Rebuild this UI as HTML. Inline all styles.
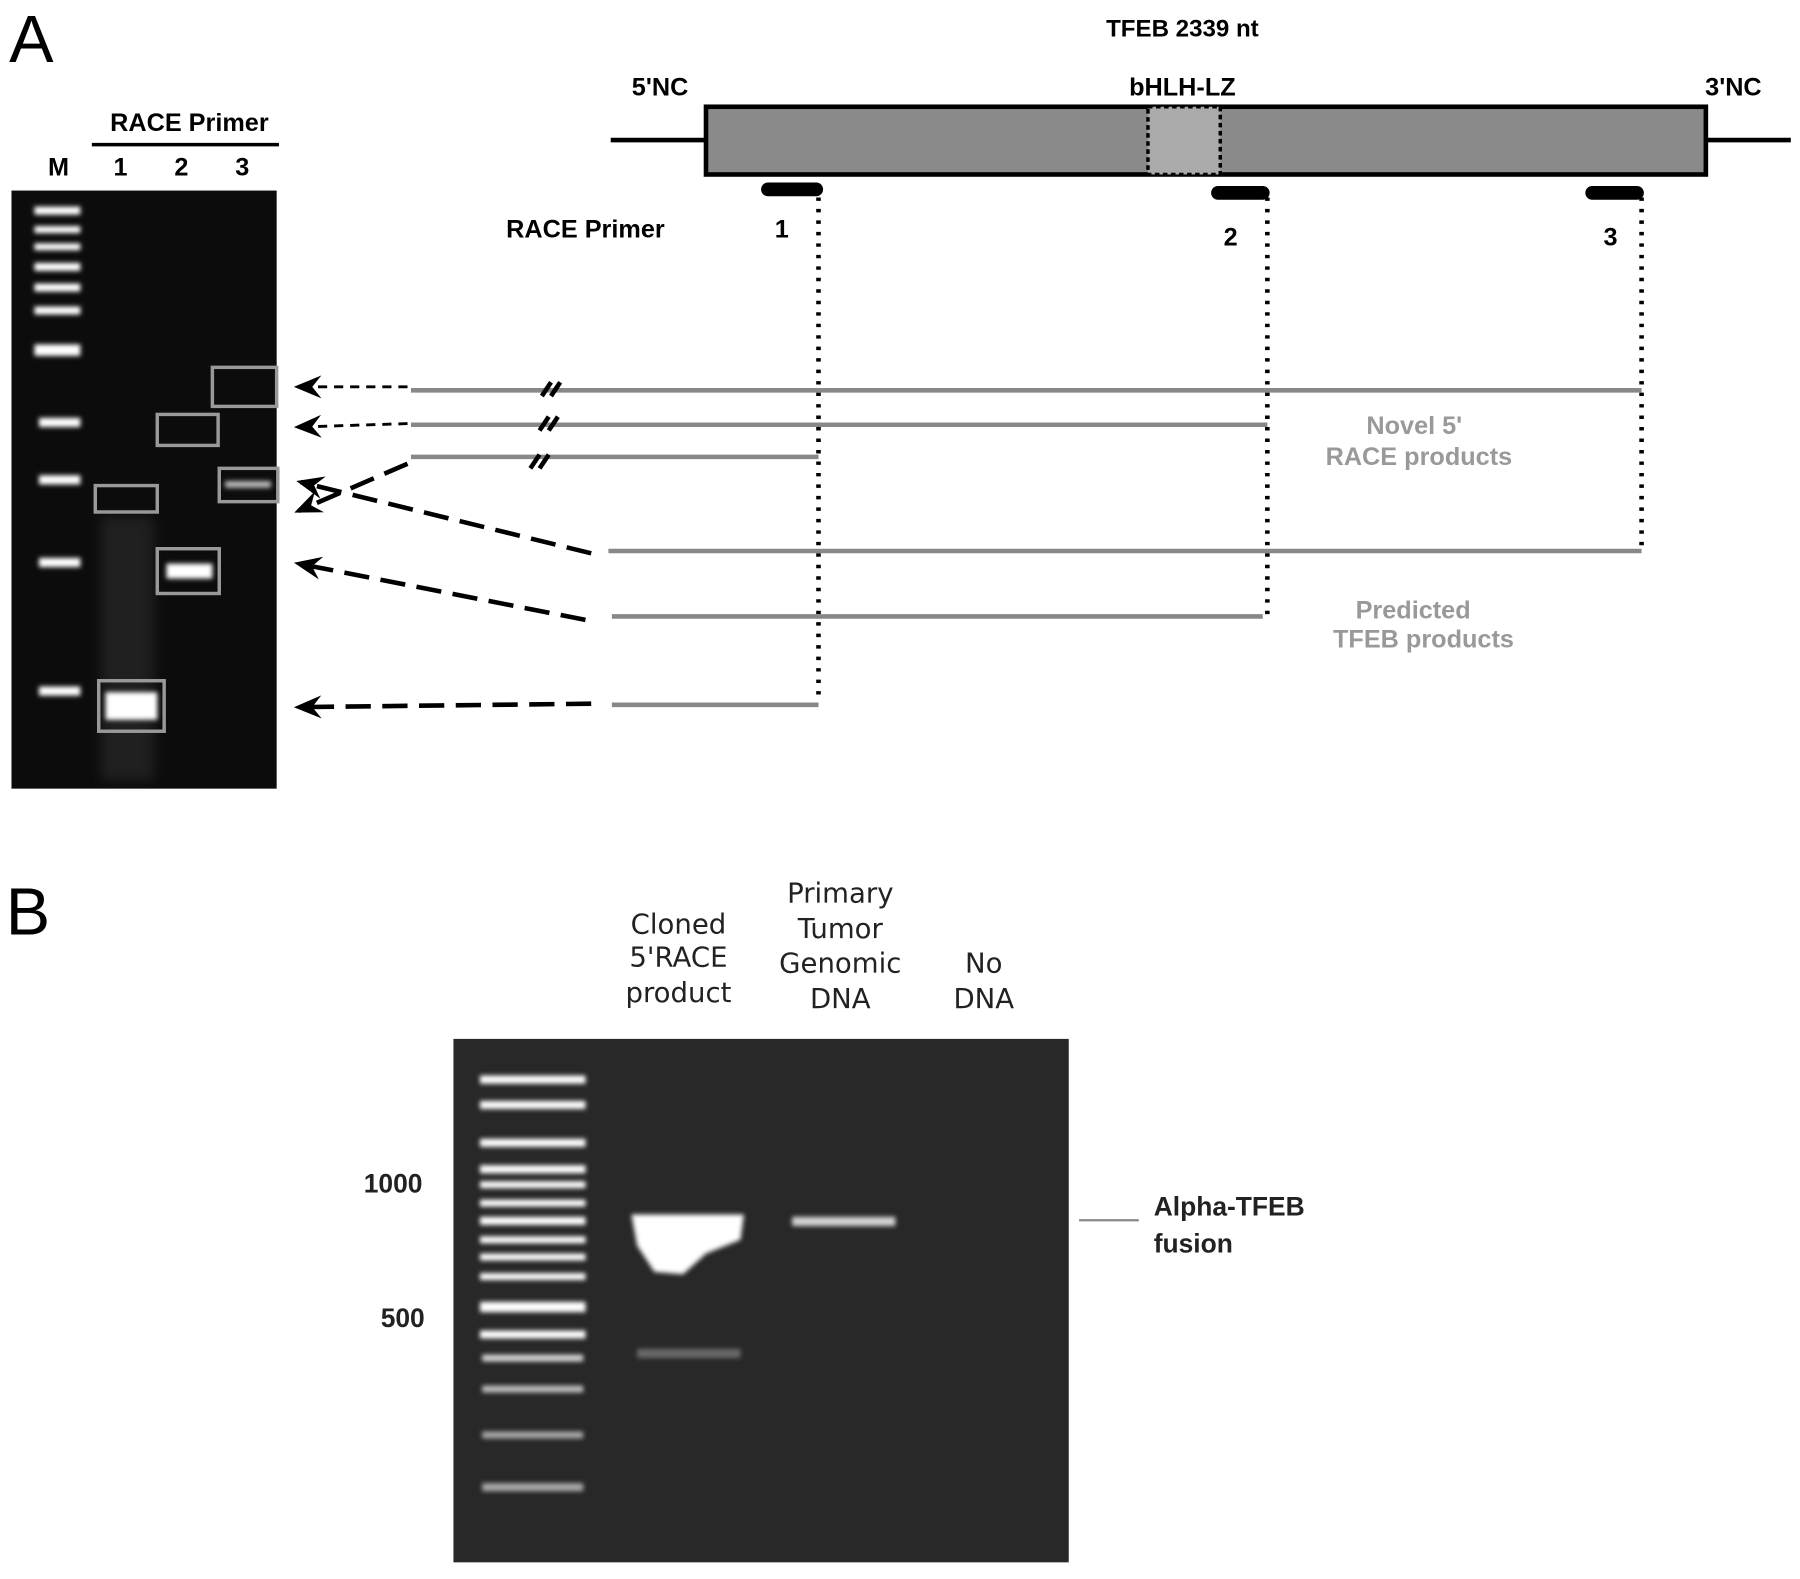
<!DOCTYPE html>
<html><head><style>html,body{margin:0;padding:0;background:#fff}svg{display:block}</style></head><body>
<svg width="1800" height="1579" viewBox="0 0 1568 1375.5" preserveAspectRatio="none" xmlns="http://www.w3.org/2000/svg" font-family="Liberation Sans, Arial, sans-serif">
<defs>
<filter id="bl" x="-20%" y="-100%" width="140%" height="300%"><feGaussianBlur stdDeviation="2"/></filter>
<filter id="bl2" x="-20%" y="-100%" width="140%" height="300%"><feGaussianBlur stdDeviation="5"/></filter>
<marker id="ah" markerWidth="24" markerHeight="20" refX="20" refY="10" orient="auto" markerUnits="userSpaceOnUse" viewBox="0 0 24 20"><path d="M24,10 L0,0 L8,10 L0,20z" fill="#000"/></marker>
</defs>
<rect width="1568" height="1376" fill="#fff"/>
<text x="8" y="54" font-size="58">A</text>
<text x="5" y="814" font-size="58">B</text>
<!-- gel A -->
<rect x="10" y="166" width="231" height="521" fill="#0c0c0c"/>
<rect x="88" y="450" width="46" height="230" fill="#444" opacity=".35" filter="url(#bl2)"/>
<g fill="#fff" filter="url(#bl)">
<rect x="30" y="180" width="40" height="7"/><rect x="30" y="197" width="40" height="6"/><rect x="30" y="212" width="40" height="6"/><rect x="30" y="229" width="40" height="7"/><rect x="30" y="247" width="40" height="7"/><rect x="30" y="267" width="40" height="7"/><rect x="30" y="300" width="40" height="10"/><rect x="34" y="364" width="36" height="8"/><rect x="34" y="414" width="36" height="8"/><rect x="34" y="486" width="36" height="8"/><rect x="34" y="598" width="36" height="8"/>
<rect x="92" y="603" width="45" height="24"/><rect x="145" y="491" width="40" height="13"/><rect x="196" y="419" width="40" height="6" opacity=".7"/>
</g>
<g fill="none" stroke="#999" stroke-width="3">
<rect x="83" y="423" width="54" height="23"/><rect x="86" y="593" width="57" height="44"/><rect x="137" y="361" width="53" height="27"/><rect x="137" y="478" width="54" height="39"/><rect x="185" y="320" width="56" height="34"/><rect x="191" y="408" width="51" height="29"/>
</g>
<g font-weight="bold" font-size="22" text-anchor="middle">
<text x="165" y="114">RACE Primer</text><text x="51" y="153">M</text><text x="105" y="153">1</text><text x="158" y="153">2</text><text x="211" y="153">3</text>
<text x="1030" y="32" font-size="21">TFEB 2339 nt</text><text x="575" y="83">5'NC</text><text x="1030" y="83">bHLH-LZ</text><text x="1510" y="83">3'NC</text>
<text x="510" y="207">RACE Primer</text><text x="681" y="207">1</text><text x="1072" y="214">2</text><text x="1403" y="214">3</text>
</g>
<line x1="80" y1="126" x2="243" y2="126" stroke="#000" stroke-width="3"/>
<line x1="532" y1="122" x2="1560" y2="122" stroke="#000" stroke-width="4"/>
<rect x="615" y="93" width="871" height="59" fill="#8a8a8a" stroke="#000" stroke-width="4"/>
<rect x="1000" y="93" width="63" height="59" fill="#aaa" stroke="#000" stroke-width="3" stroke-dasharray="4,3"/>
<g stroke="#000" stroke-width="12" stroke-linecap="round"><line x1="669" y1="165" x2="711" y2="165"/><line x1="1061" y1="168" x2="1100" y2="168"/><line x1="1387" y1="168" x2="1426" y2="168"/></g>
<g stroke="#000" stroke-width="4" stroke-dasharray="3,7" fill="none"><line x1="713" y1="172" x2="713" y2="612"/><line x1="1104" y1="172" x2="1104" y2="537"/><line x1="1430" y1="172" x2="1430" y2="480"/></g>
<g stroke="#888" stroke-width="4"><line x1="358" y1="340" x2="1430" y2="340"/><line x1="358" y1="370" x2="1104" y2="370"/><line x1="358" y1="398" x2="713" y2="398"/><line x1="530" y1="480" x2="1430" y2="480"/><line x1="533" y1="537" x2="1100" y2="537"/><line x1="533" y1="614" x2="713" y2="614"/></g>
<g stroke="#000" stroke-width="4"><path d="M472,345 l8,-12 M480,345 l8,-12 M470,375 l8,-12 M478,375 l8,-12 M462,408 l8,-12 M470,408 l8,-12"/></g>
<g stroke="#000" fill="none" marker-end="url(#ah)">
<polyline points="355,337 260,337" stroke-width="2.5" stroke-dasharray="8,6"/>
<polyline points="355,369 260,372" stroke-width="2.5" stroke-dasharray="8,6"/>
<polyline points="515,482 262,420" stroke-width="4" stroke-dasharray="22,10"/>
<polyline points="355,404 260,445" stroke-width="4" stroke-dasharray="22,10"/>
<polyline points="510,540 260,491" stroke-width="4" stroke-dasharray="22,10"/>
<polyline points="515,613 260,616" stroke-width="4" stroke-dasharray="22,10"/>
</g>
<g fill="#999" font-weight="bold" font-size="22" text-anchor="middle">
<text x="1232" y="378">Novel 5'</text><text x="1236" y="405">RACE products</text><text x="1231" y="539">Predicted</text><text x="1240" y="564">TFEB products</text>
</g>
<!-- panel B -->
<rect x="395" y="905" width="536" height="456" fill="#282828"/>
<g fill="#fff" filter="url(#bl)">
<rect x="418" y="937" width="92" height="7"/><rect x="418" y="959" width="92" height="7"/><rect x="418" y="992" width="92" height="7"/><rect x="418" y="1015" width="92" height="7"/><rect x="418" y="1029" width="92" height="6"/><rect x="418" y="1045" width="92" height="6"/><rect x="418" y="1060" width="92" height="7"/><rect x="418" y="1077" width="92" height="6"/><rect x="418" y="1092" width="92" height="6"/><rect x="418" y="1109" width="92" height="6"/><rect x="418" y="1134" width="92" height="9"/><rect x="418" y="1159" width="92" height="7"/><rect x="420" y="1180" width="88" height="6" opacity=".8"/><rect x="420" y="1207" width="88" height="6" opacity=".7"/><rect x="420" y="1247" width="88" height="6" opacity=".6"/><rect x="420" y="1292" width="88" height="7" opacity=".6"/>
<path d="M550,1058 L648,1058 L645,1080 L615,1092 L595,1110 L570,1108 L555,1085z"/>
<rect x="690" y="1060" width="90" height="8" opacity=".8"/>
<rect x="555" y="1175" width="90" height="8" opacity=".3"/>
</g>
<g font-size="24" text-anchor="middle" fill="#222" font-family="DejaVu Sans, sans-serif">
<text x="591" y="813">Cloned</text><text x="591" y="842">5'RACE</text><text x="591" y="873">product</text>
<text x="732" y="786">Primary</text><text x="732" y="817">Tumor</text><text x="732" y="847">Genomic</text><text x="732" y="878">DNA</text>
<text x="857" y="847">No</text><text x="857" y="878">DNA</text>
</g>
<g font-size="23" font-weight="bold" fill="#222">
<text x="368" y="1039" text-anchor="end">1000</text><text x="370" y="1156" text-anchor="end">500</text>
<text x="1005" y="1059">Alpha-TFEB</text><text x="1005" y="1091">fusion</text>
</g>
<line x1="940" y1="1063" x2="992" y2="1063" stroke="#888" stroke-width="2"/>
</svg>
</body></html>
